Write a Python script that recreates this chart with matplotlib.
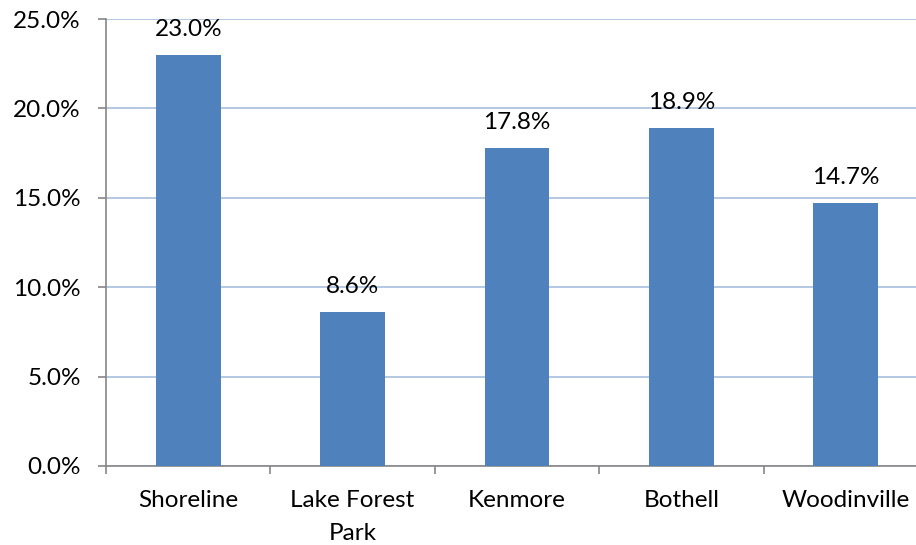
import matplotlib.pyplot as plt
import numpy as np

cities = ["Shoreline", "Lake Forest\nPark", "Kenmore", "Bothell", "Woodinville"]
shares = [23.0, 8.6, 17.8, 18.9, 14.7]
y_ticks = [0, 5, 10, 15, 20, 25]

plt.rcParams['font.family'] = ['Lato', 'DejaVu Sans']
FS = 17.5

fig = plt.figure(figsize=(9.16, 5.45), dpi=100)
# plot area runs slightly past the right edge of the image, as in the reference
ax = fig.add_axes([106 / 916, 79 / 545, 822 / 916, 447 / 545])

x = np.arange(len(cities))
ax.bar(x, shares, width=0.395, color='#4F81BD', zorder=3)
for xi, v in zip(x, shares):
    ax.text(xi, v + 1.05, f"{v:.1f}%", ha='center', va='baseline', fontsize=FS, color='black')

ax.set_xlim(-0.5, len(cities) - 0.5)
ax.set_ylim(0, 25)
ax.set_yticks(y_ticks)
ax.set_yticklabels([f"{t:.1f}%" for t in y_ticks], fontsize=FS)
ax.yaxis.grid(True, color='#A7BFDE', linewidth=1.2, zorder=0)

ax.set_xticks(x)
ax.set_xticklabels(cities, fontsize=FS, linespacing=1.75)
ax.tick_params(axis='x', length=0, pad=17)
ax.set_xticks(np.arange(len(cities) + 1) - 0.5, minor=True)
ax.tick_params(axis='x', which='minor', length=6, color='#868686', width=1.2)
ax.tick_params(axis='y', length=6, color='#868686', width=1.2, pad=12)

for s in ['top', 'right']:
    ax.spines[s].set_visible(False)
for s in ['left', 'bottom']:
    ax.spines[s].set_color('#868686')
    ax.spines[s].set_linewidth(1.2)

fig.savefig('out.png', dpi=100)
